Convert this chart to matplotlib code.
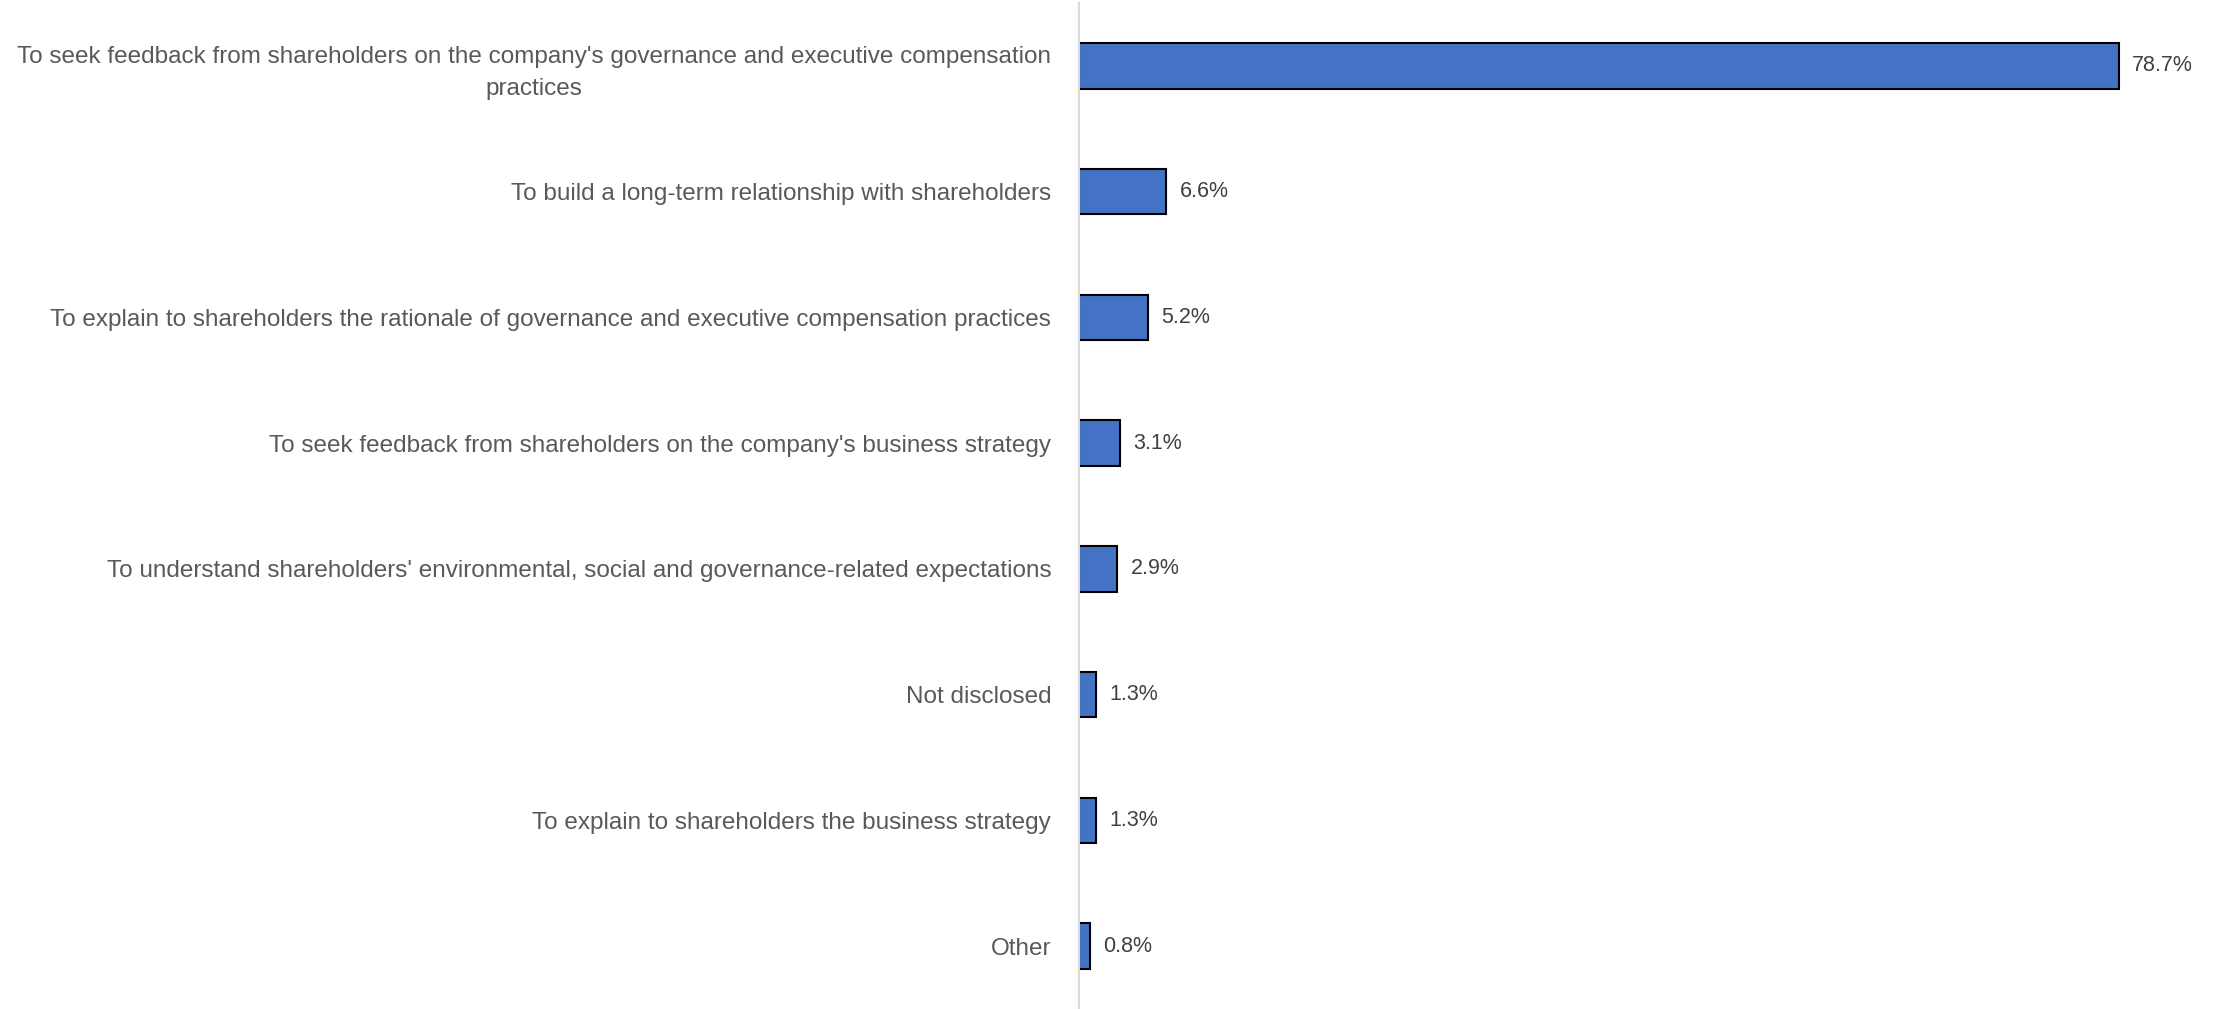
import matplotlib.pyplot as plt

# survey answers, top to bottom
labels = [
    "To seek feedback from shareholders on the company's governance and executive compensation\npractices",
    "To build a long-term relationship with shareholders",
    "To explain to shareholders the rationale of governance and executive compensation practices",
    "To seek feedback from shareholders on the company's business strategy",
    "To understand shareholders' environmental, social and governance-related expectations",
    "Not disclosed",
    "To explain to shareholders the business strategy",
    "Other",
]
values = [78.7, 6.6, 5.2, 3.1, 2.9, 1.3, 1.3, 0.8]

plt.rcParams["font.family"] = ["Liberation Sans Narrow", "Liberation Sans", "DejaVu Sans"]

fig = plt.figure(figsize=(22.18, 10.09), dpi=100)
ax = fig.add_axes([1079 / 2218, 0.0, 1 - 1079 / 2218, 1006 / 1009])

ypos = list(range(len(values)))
ax.barh(ypos, values, height=0.36, color="#4472C4", edgecolor="black", linewidth=1.5)

for y, v in zip(ypos, values):
    ax.text(v + 1.0, y, f"{v:.1f}%", va="center", ha="left", fontsize=15.5, color="#404040")

ax.set_ylim(len(values) - 0.5, -0.5)
ax.set_xlim(0, (2218 - 1079) / 13.21)
ax.set_yticks(ypos)
ax.set_yticklabels(labels, fontsize=17.5, color="#595959", multialignment="center", linespacing=1.55)
ax.tick_params(axis="y", length=0, pad=20)
ax.set_xticks([])

for s in ["top", "right", "bottom"]:
    ax.spines[s].set_visible(False)
ax.spines["left"].set_color("#D9D9D9")
ax.spines["left"].set_linewidth(1.5)

fig.savefig("out.png", dpi=100)
